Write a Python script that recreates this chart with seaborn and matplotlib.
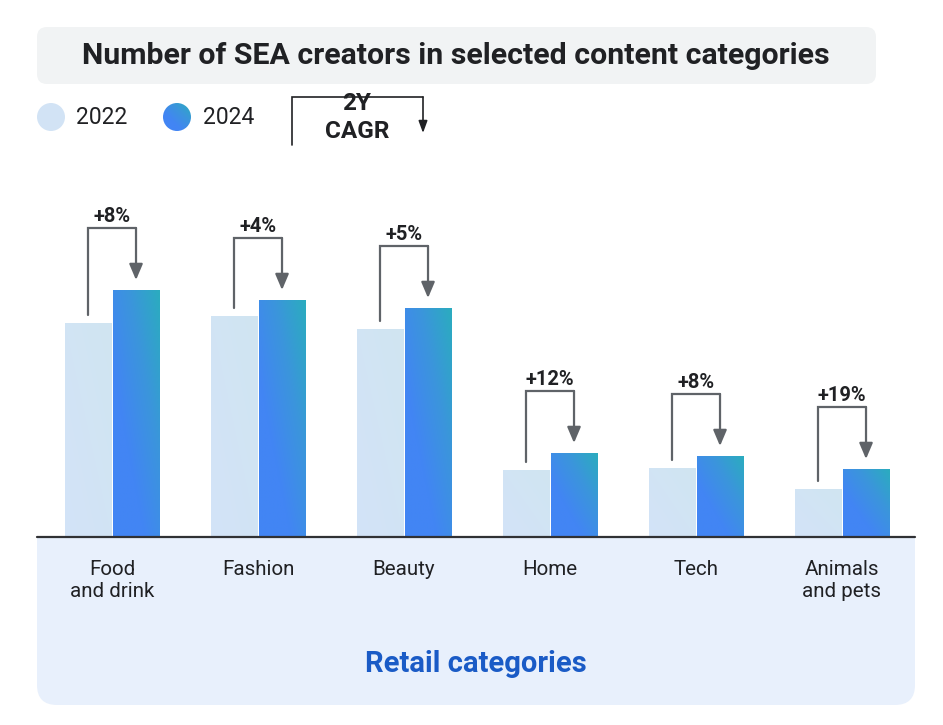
import numpy as np
import pandas as pd
import matplotlib
matplotlib.use("Agg")
import matplotlib.pyplot as plt
import seaborn as sns
from matplotlib.patches import FancyBboxPatch, Rectangle, Circle
from matplotlib.lines import Line2D
from matplotlib.colors import LinearSegmentedColormap
from matplotlib.transforms import IdentityTransform

# ---------------- data ----------------
categories = ["Food\nand drink", "Fashion", "Beauty", "Home", "Tech", "Animals\nand pets"]
years = ["2022", "2024"]
values_2022 = [214, 221, 208, 67, 69, 48]
values_2024 = [247, 237, 229, 84, 81, 68]
cagr_labels = ["+8%", "+4%", "+5%", "+12%", "+8%", "+19%"]
title = "Number of SEA creators in selected content categories"
xlabel = "Retail categories"

df = pd.DataFrame({
    "category": categories * 2,
    "year": [years[0]] * len(categories) + [years[1]] * len(categories),
    "value": values_2022 + values_2024,
})

# ---------------- style ----------------
sns.set_theme(style="white")
plt.rcParams["font.family"] = ["Roboto", "DejaVu Sans"]
TXT = "#202124"
GRAY = "#5f6368"
LIGHT = "#d2e3f5"
BLUE = "#4285f4"
TEAL = "#2bacbf"

W, H = 943, 725
fig = plt.figure(figsize=(W / 100, H / 100), dpi=100)
fig.patch.set_facecolor("white")
ID = IdentityTransform()

def py(y):  # top-origin pixel -> display pixel
    return H - y

# axes: x from px 37..915, baseline at py 537, 1 data unit == 1 px vertically
ax_l, ax_r, ax_b, ax_t = 37, 915, 537, 150
ax = fig.add_axes([ax_l / W, (H - ax_b) / H, (ax_r - ax_l) / W, (ax_b - ax_t) / H])
ax.set_facecolor("none")

sns.barplot(data=df, x="category", y="value", hue="year", order=categories,
            hue_order=years, palette={"2022": LIGHT, "2024": BLUE},
            width=0.658, gap=0.04, saturation=1, legend=False, ax=ax)

spacing = 146.0
xmin = (ax_l - 112) / spacing
xmax = (ax_r - 112) / spacing

# gradients on bars
grad_cmap = LinearSegmentedColormap.from_list("g", [BLUE, BLUE, "#3b95dc", TEAL], N=256)
light_cmap = LinearSegmentedColormap.from_list("l", ["#d3e3f8", "#d0e5f1"], N=256)
u, v = np.meshgrid(np.linspace(0, 1, 64), np.linspace(0, 1, 64))
tgrid = (u + v) / 2.0
for cont, cmap in zip(ax.containers, [light_cmap, grad_cmap]):
    for p in cont.patches:
        x0, y0 = p.get_x(), p.get_y()
        w, h = p.get_width(), p.get_height()
        im = ax.imshow(tgrid, cmap=cmap, vmin=0, vmax=1, origin="lower",
                       extent=[x0, x0 + w, y0, y0 + h], aspect="auto",
                       interpolation="bilinear", zorder=p.get_zorder() + 0.1)
        im.set_clip_path(p)

ax.set_xlim(xmin, xmax)
ax.set_ylim(0, ax_b - ax_t)
for s in ax.spines.values():
    s.set_visible(False)
ax.set_xticks([])
ax.set_yticks([])
ax.set_xlabel("")
ax.set_ylabel("")
ax.axhline(0, color="#303134", lw=1.6, zorder=5, clip_on=False)

# CAGR brackets
off = 0.329 / 2
for i, (a, b, lab) in enumerate(zip(values_2022, values_2024, cagr_labels)):
    xl, xr = i - off, i + off
    top = b + 62
    ax.plot([xl, xl, xr], [a + 8, top, top], color=GRAY, lw=1.6,
            solid_joinstyle="miter", clip_on=False, zorder=6)
    ax.annotate("", xy=(xr, b + 10), xytext=(xr, top),
                arrowprops=dict(arrowstyle="-|>,head_length=0.8,head_width=0.34",
                                color=GRAY, lw=1.6, shrinkA=0, shrinkB=0),
                annotation_clip=False, zorder=6)
    ax.text(i, top + 6, lab, ha="center", va="baseline", fontsize=14.5,
            fontweight="bold", color=TXT, clip_on=False)

# category labels (below baseline)
for i, c in enumerate(categories):
    ax.text(i, -23, c, ha="center", va="top", fontsize=14.8, color=TXT,
            linespacing=1.2, clip_on=False)

ax.text((476 - 112) / spacing, -(664 - 537), xlabel, ha="center", va="center",
        fontsize=21, fontweight="bold", color="#1a5bc6", clip_on=False)

# ---------------- figure decorations ----------------
panel_col = "#e8f0fc"
fig.add_artist(FancyBboxPatch((37, py(705)), 878, 705 - 538,
                              boxstyle="round,pad=0,rounding_size=20",
                              transform=ID, facecolor=panel_col, edgecolor="none", zorder=-2))
fig.add_artist(Rectangle((37, py(600)), 878, 600 - 538, transform=ID,
                         facecolor=panel_col, edgecolor="none", zorder=-2))

fig.add_artist(FancyBboxPatch((37, py(84)), 876 - 37, 84 - 27,
                              boxstyle="round,pad=0,rounding_size=10",
                              transform=ID, facecolor="#f1f3f4", edgecolor="none", zorder=-2))
fig.text(456 / W, 1 - 56 / H, title, ha="center", va="center", fontsize=21.8,
         fontweight="bold", color=TXT)

# legend
fig.add_artist(Circle((51, py(117)), 14, transform=ID, facecolor=LIGHT,
                      edgecolor="none"))
fig.text(76 / W, 1 - 117 / H, years[0], ha="left", va="center", fontsize=16.5, color=TXT)
cax = fig.add_axes([(177 - 14) / W, (H - 117 - 14) / H, 28 / W, 28 / H])
cax.set_axis_off()
cim = cax.imshow(tgrid, cmap=grad_cmap, vmin=0, vmax=1, origin="lower",
                 extent=[0, 1, 0, 1], aspect="auto", interpolation="bilinear")
cclip = Circle((0.5, 0.5), 0.5, transform=cax.transAxes)
cim.set_clip_path(cclip)
fig.text(203 / W, 1 - 117 / H, years[1], ha="left", va="center", fontsize=16.5, color=TXT)

# 2Y CAGR bracket legend
fig.add_artist(Line2D([292, 292, 423], [py(145), py(97), py(97)], transform=ID,
                      color=TXT, lw=1.2, solid_joinstyle="miter"))
ax.annotate("", xy=(423, py(133)), xycoords="figure pixels",
            xytext=(423, py(97)), textcoords="figure pixels",
            arrowprops=dict(arrowstyle="-|>,head_length=0.6,head_width=0.22",
                            color=TXT, lw=1.2, shrinkA=0, shrinkB=0),
            annotation_clip=False)
fig.text(357 / W, 1 - 103 / H, "2Y", ha="center", va="center", fontsize=17.5,
         fontweight="bold", color=TXT)
fig.text(357 / W, 1 - 131 / H, "CAGR", ha="center", va="center", fontsize=17.5,
         fontweight="bold", color=TXT)

fig.savefig("out.png", dpi=100)
